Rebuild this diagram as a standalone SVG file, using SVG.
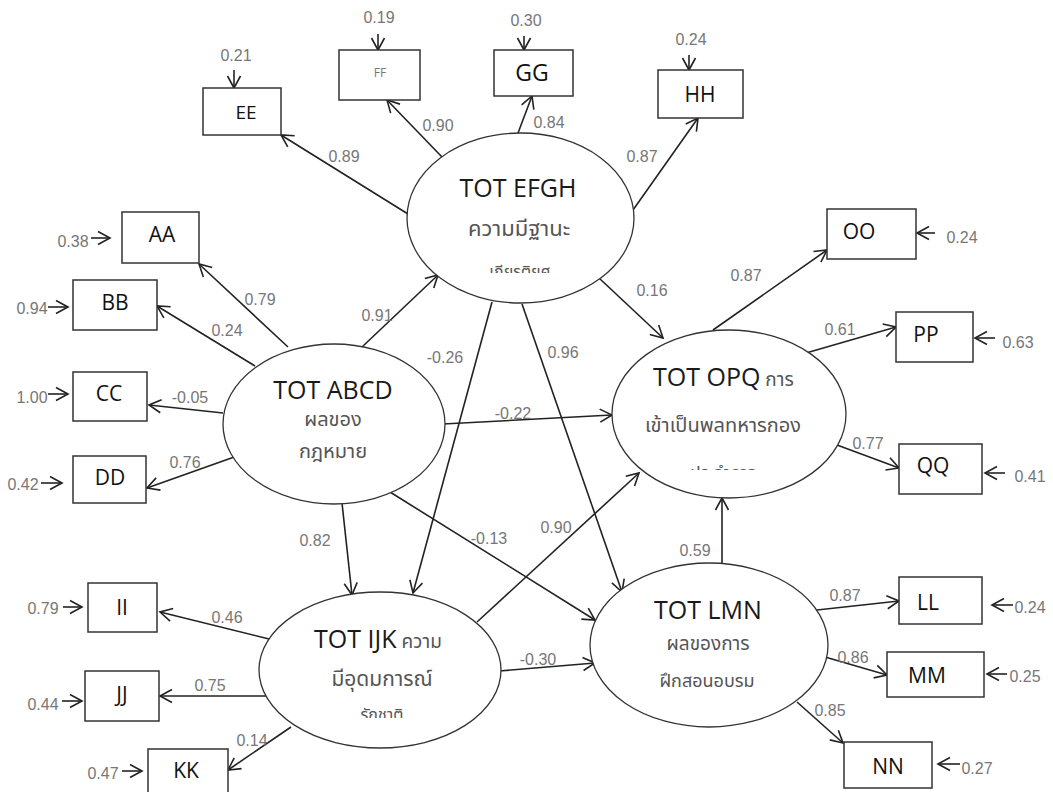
<svg xmlns="http://www.w3.org/2000/svg" width="1053" height="792" viewBox="0 0 1053 792">
<style>
.bx{fill:#fff;stroke:#333;stroke-width:1.5}
.el{fill:#fff;stroke:#333;stroke-width:1.3}
.bt{font-family:"Open Sans","Liberation Sans",sans-serif;font-size:21px;fill:#111;text-anchor:middle}
.tt{font-family:"Open Sans","Liberation Sans",sans-serif;font-size:25px;fill:#1a1a1a}
.th{font-family:"Noto Sans Thai","Noto Sans","DejaVu Sans",sans-serif;font-size:20px;fill:#555;text-anchor:middle}
.lb{font-family:"Liberation Sans",Arial,sans-serif;font-size:16px;fill:#777;text-anchor:middle}
.cn line{stroke:#222;stroke-width:1.6;fill:none}
.ar{marker-end:url(#ah)}
</style>
<defs>
<marker id="ah" markerUnits="userSpaceOnUse" markerWidth="16" markerHeight="16" refX="13" refY="8" orient="auto" viewBox="0 0 16 16">
<path d="M1,1.5 L13,8 L1,14.5" fill="none" stroke="#222" stroke-width="1.6"/>
</marker>
<clipPath id="c1"><rect x="400" y="255" width="240" height="18"/></clipPath>
<clipPath id="c2"><rect x="610" y="455" width="240" height="15"/></clipPath>
<clipPath id="c3"><rect x="250" y="695" width="260" height="23"/></clipPath>
</defs>
<rect width="1053" height="792" fill="#fff"/>

<g id="connectors" class="cn">
<line class="ar" x1="408" y1="214" x2="281" y2="135"/>
<line class="ar" x1="442" y1="157" x2="387" y2="100"/>
<line class="ar" x1="518" y1="133" x2="532" y2="96"/>
<line class="ar" x1="633" y1="210" x2="698" y2="118"/>
<line class="ar" x1="288" y1="347" x2="199" y2="264"/>
<line class="ar" x1="255" y1="366" x2="157" y2="306"/>
<line class="ar" x1="223" y1="413" x2="149" y2="405"/>
<line class="ar" x1="237" y1="456" x2="147" y2="488"/>
<line class="ar" x1="713" y1="330" x2="827" y2="250"/>
<line class="ar" x1="806" y1="353" x2="896" y2="327"/>
<line class="ar" x1="837" y1="445" x2="899" y2="468"/>
<line class="ar" x1="269" y1="639" x2="160" y2="612"/>
<line class="ar" x1="267" y1="696" x2="160" y2="696"/>
<line class="ar" x1="291" y1="727" x2="228" y2="770"/>
<line class="ar" x1="817" y1="610" x2="899" y2="601"/>
<line class="ar" x1="825" y1="657" x2="887" y2="675"/>
<line class="ar" x1="797" y1="702" x2="843" y2="743"/>
<line class="ar" x1="362" y1="347" x2="438" y2="275"/>
<line class="ar" x1="492" y1="302" x2="413" y2="593"/>
<line class="ar" x1="522" y1="304" x2="622" y2="592"/>
<line class="ar" x1="599" y1="278" x2="663" y2="338"/>
<line class="ar" x1="443" y1="424" x2="612" y2="415"/>
<line class="ar" x1="477" y1="622" x2="639" y2="473"/>
<line class="ar" x1="390" y1="492" x2="595" y2="620"/>
<line class="ar" x1="342" y1="503" x2="352" y2="595"/>
<line class="ar" x1="499" y1="671" x2="595" y2="663"/>
<line class="ar" x1="722" y1="563" x2="722" y2="498"/>
<line class="ar" x1="234" y1="70" x2="234" y2="88"/>
<line class="ar" x1="378" y1="34" x2="378" y2="50"/>
<line class="ar" x1="524" y1="36" x2="524" y2="50"/>
<line class="ar" x1="689" y1="55" x2="689" y2="70"/>
<line class="ar" x1="91" y1="238" x2="110" y2="238"/>
<line class="ar" x1="48" y1="307" x2="68" y2="307"/>
<line class="ar" x1="48" y1="394" x2="68" y2="394"/>
<line class="ar" x1="41" y1="483" x2="62" y2="483"/>
<line class="ar" x1="935" y1="233" x2="917" y2="233"/>
<line class="ar" x1="995" y1="338" x2="975" y2="338"/>
<line class="ar" x1="1005" y1="473" x2="985" y2="473"/>
<line class="ar" x1="63" y1="607" x2="82" y2="607"/>
<line class="ar" x1="62" y1="701" x2="82" y2="701"/>
<line class="ar" x1="122" y1="771" x2="142" y2="771"/>
<line class="ar" x1="1013" y1="605" x2="992" y2="605"/>
<line class="ar" x1="1007" y1="674" x2="987" y2="674"/>
<line class="ar" x1="960" y1="764" x2="938" y2="764"/>
</g>

<g id="labels">
<text class="lb" x="344" y="162">0.89</text>
<text class="lb" x="438" y="131">0.90</text>
<text class="lb" x="549" y="128">0.84</text>
<text class="lb" x="642" y="162">0.87</text>
<text class="lb" x="260" y="305">0.79</text>
<text class="lb" x="227" y="336">0.24</text>
<text class="lb" x="190" y="403">-0.05</text>
<text class="lb" x="185" y="468">0.76</text>
<text class="lb" x="377" y="321">0.91</text>
<text class="lb" x="445" y="363">-0.26</text>
<text class="lb" x="563" y="358">0.96</text>
<text class="lb" x="652" y="296">0.16</text>
<text class="lb" x="513" y="419">-0.22</text>
<text class="lb" x="746" y="281">0.87</text>
<text class="lb" x="840" y="335">0.61</text>
<text class="lb" x="868" y="449">0.77</text>
<text class="lb" x="556" y="533">0.90</text>
<text class="lb" x="489" y="544">-0.13</text>
<text class="lb" x="315" y="546">0.82</text>
<text class="lb" x="695" y="556">0.59</text>
<text class="lb" x="538" y="665">-0.30</text>
<text class="lb" x="227" y="623">0.46</text>
<text class="lb" x="210" y="691">0.75</text>
<text class="lb" x="252" y="746">0.14</text>
<text class="lb" x="845" y="601">0.87</text>
<text class="lb" x="853" y="663">0.86</text>
<text class="lb" x="830" y="716">0.85</text>
<text class="lb" x="236" y="61">0.21</text>
<text class="lb" x="379" y="23">0.19</text>
<text class="lb" x="526" y="26">0.30</text>
<text class="lb" x="691" y="45">0.24</text>
<text class="lb" x="73" y="247">0.38</text>
<text class="lb" x="32" y="314">0.94</text>
<text class="lb" x="32" y="403">1.00</text>
<text class="lb" x="23" y="490">0.42</text>
<text class="lb" x="962" y="243">0.24</text>
<text class="lb" x="1018" y="348">0.63</text>
<text class="lb" x="1030" y="482">0.41</text>
<text class="lb" x="43" y="614">0.79</text>
<text class="lb" x="43" y="710">0.44</text>
<text class="lb" x="103" y="779">0.47</text>
<text class="lb" x="1030" y="613">0.24</text>
<text class="lb" x="1025" y="682">0.25</text>
<text class="lb" x="977" y="774">0.27</text>
</g>

<g id="EE"><rect class="bx" x="203" y="88" width="78" height="47"/><text class="bt" x="246" y="119" style="font-size:19px">EE</text></g>
<g id="FF"><rect class="bx" x="339" y="50" width="81" height="50"/><text class="bt" x="380" y="77" style="font-size:12px;fill:#777">FF</text></g>
<g id="GG"><rect class="bx" x="494" y="50" width="79" height="46"/><text class="bt" x="532" y="81" style="font-size:23px">GG</text></g>
<g id="HH"><rect class="bx" x="658" y="70" width="85" height="48"/><text class="bt" x="700" y="102">HH</text></g>
<g id="AA"><rect class="bx" x="122" y="212" width="77" height="51"/><text class="bt" x="162" y="242">AA</text></g>
<g id="BB"><rect class="bx" x="73" y="280" width="84" height="50"/><text class="bt" x="115" y="310">BB</text></g>
<g id="CC"><rect class="bx" x="73" y="372" width="74" height="49"/><text class="bt" x="109" y="401">CC</text></g>
<g id="DD"><rect class="bx" x="73" y="456" width="73" height="47"/><text class="bt" x="110" y="485">DD</text></g>
<g id="OO"><rect class="bx" x="827" y="209" width="89" height="50"/><text class="bt" x="859" y="239">OO</text></g>
<g id="PP"><rect class="bx" x="896" y="312" width="77" height="50"/><text class="bt" x="926" y="342">PP</text></g>
<g id="QQ"><rect class="bx" x="899" y="444" width="83" height="50"/><text class="bt" x="933" y="473">QQ</text></g>
<g id="II"><rect class="bx" x="88" y="583" width="69" height="49"/><text class="bt" x="122" y="615">II</text></g>
<g id="JJ"><rect class="bx" x="85" y="671" width="74" height="50"/><text class="bt" x="122" y="702">JJ</text></g>
<g id="KK"><rect class="bx" x="148" y="749" width="80" height="44"/><text class="bt" x="186" y="778">KK</text></g>
<g id="LL"><rect class="bx" x="899" y="577" width="83" height="47"/><text class="bt" x="928" y="610">LL</text></g>
<g id="MM"><rect class="bx" x="887" y="652" width="97" height="45"/><text class="bt" x="927" y="683">MM</text></g>
<g id="NN"><rect class="bx" x="844" y="742" width="88" height="46"/><text class="bt" x="888" y="774">NN</text></g>

<g id="EFGH">
<ellipse class="el" cx="520.5" cy="218" rx="113.5" ry="85"/>
<text class="tt" x="518" y="197" text-anchor="middle">TOT EFGH</text>
<text class="th" x="519" y="236" style="font-size:22px">ความมีฐานะ</text>
<text class="th" x="520" y="277" style="font-size:16px" clip-path="url(#c1)">เกียรติยศ</text>
</g>
<g id="ABCD">
<ellipse class="el" cx="334" cy="424" rx="111" ry="80"/>
<text class="tt" x="333" y="399" text-anchor="middle">TOT ABCD</text>
<text class="th" x="333" y="426">ผลของ</text>
<text class="th" x="333" y="458">กฎหมาย</text>
</g>
<g id="OPQ">
<ellipse class="el" cx="729" cy="414" rx="117" ry="84"/>
<text class="tt" x="653" y="386">TOT OPQ<tspan style="font-size:19px;fill:#555;font-family:'Noto Sans Thai','Noto Sans',sans-serif"> การ</tspan></text>
<text class="th" x="723" y="432">เข้าเป็นพลทหารกอง</text>
<text class="th" x="723" y="479" style="font-size:17px" clip-path="url(#c2)">ประจำการ</text>
</g>
<g id="IJK">
<ellipse class="el" cx="380" cy="670" rx="121" ry="78"/>
<text class="tt" x="314" y="648">TOT IJK<tspan style="font-size:19px;fill:#555;font-family:'Noto Sans Thai','Noto Sans',sans-serif"> ความ</tspan></text>
<text class="th" x="382" y="686" style="font-size:21px">มีอุดมการณ์</text>
<text class="th" x="382" y="720" style="font-size:16px" clip-path="url(#c3)">รักชาติ</text>
</g>
<g id="LMN">
<ellipse class="el" cx="709" cy="645" rx="119" ry="82"/>
<text class="tt" x="708" y="619" text-anchor="middle">TOT LMN</text>
<text class="th" x="708" y="650" style="font-size:19px">ผลของการ</text>
<text class="th" x="707" y="687" style="font-size:18px">ฝึกสอนอบรม</text>
</g>
</svg>
